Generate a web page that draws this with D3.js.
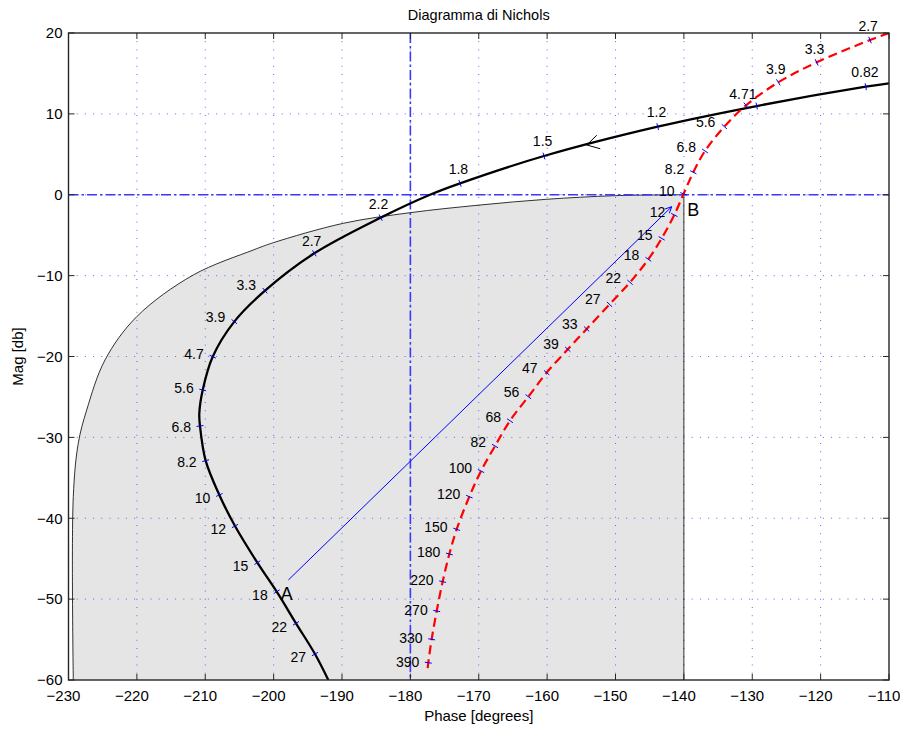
<!DOCTYPE html>
<html>
<head>
<meta charset="utf-8">
<script src="https://cdn.jsdelivr.net/npm/d3@7"></script>
<style>
  body { margin: 0; background: #fff; }
  text { font-family: "Liberation Sans", Arial, Helvetica, sans-serif; fill: #000; }
</style>
</head>
<body>
<svg id="chart" width="903" height="731"></svg>
<script>
// ---------------- data ----------------
const xTickValues = [-230, -220, -210, -200, -190, -180, -170, -160, -150, -140, -130, -120, -110];
const yTickValues = [20, 10, 0, -10, -20, -30, -40, -50, -60];

// Black solid Nichols curve (frequency labels; null = plain vertex, "" = unlabelled marker)
const blackPhase = [-110.0, -113.4, -129.35, -143.83, -160.46, -172.74, -177.13, -184.34, -194.05, -201.26, -205.75, -208.91, -210.37, -210.87, -210.77, -209.94, -207.94, -205.65, -202.38, -199.55, -196.73, -193.95, -192.0];
const blackMag   = [13.78, 13.36, 10.97, 8.42, 4.79, 1.41, 0.0, -2.83, -7.24, -11.86, -15.69, -20.02, -24.14, -27.03, -28.59, -32.88, -37.12, -40.96, -45.49, -49.08, -52.99, -56.79, -60.0];
const blackFreq  = [null, "0.82", "", "1.2", "1.5", "1.8", null, "2.2", "2.7", "3.3", "3.9", "4.7", "5.6", null, "6.8", "8.2", "10", "12", "15", "18", "22", "27", null];

// Red dashed Nichols curve
const redPhase = [-110.0, -112.78, -120.58, -126.19, -130.91, -134.08, -136.91, -138.62, -140.05, -141.4, -143.25, -145.2, -147.88, -150.88, -154.22, -156.98, -160.07, -162.75, -165.43, -167.62, -169.67, -171.38, -173.23, -174.3, -175.28, -176.15, -176.89, -177.38, -177.47];
const redMag   = [20.0, 19.13, 16.37, 13.9, 11.06, 8.42, 5.41, 2.78, 0.1, -2.5, -5.39, -7.98, -10.83, -13.55, -16.6, -19.11, -22.0, -24.97, -27.94, -31.07, -34.16, -37.33, -41.37, -44.42, -47.84, -51.47, -54.97, -57.86, -58.55];
const redFreq  = [null, "2.7", "3.3", "3.9", "4.71", "5.6", "6.8", "8.2", "10", "12", "15", "18", "22", "27", "33", "39", "47", "56", "68", "82", "100", "120", "150", "180", "220", "270", "330", "390", null];

// Shaded region boundary (curved part, ending at 0 dB / -140 deg)
const regionPhase = [-229.3, -229.3, -228.57, -227.34, -224.66, -220.03, -211.75, -202.97, -200.05, -189.81, -180.06, -169.82, -160.06, -150.32, -143.49, -140.0];
const regionMag   = [-60.0, -37.33, -30.73, -26.62, -20.43, -15.08, -9.92, -6.83, -5.93, -3.53, -2.22, -1.27, -0.56, -0.12, -0.02, 0.0];
const regionCorner = [-140.0, -60.0];

// Reference lines
const refPhase = [-180];
const refMag = [0];

// Arrow on black curve (phase, mag) and A-B segment
const arrowPoint = [-154.2, 6.15];
const segPhase = [-197.85, -141.78];
const segMag = [-47.64, -1.48];
const annoText = ["A", "B"];
const annoPhase = [-198.09, -138.62];
const annoMag = [-49.28, -1.89];

const titleText = "Diagramma di Nichols";
const xLabelText = "Phase [degrees]";
const yLabelText = "Mag [db]";

// ---------------- layout ----------------
const W = 903, H = 731;
const m = { left: 68.5, right: 14, top: 33, bottom: 51 };
const x = d3.scaleLinear().domain([-230, -110]).range([m.left, W - m.right]);
const y = d3.scaleLinear().domain([-60, 20]).range([H - m.bottom, m.top]);

const svg = d3.select("#chart");
svg.append("defs").append("clipPath").attr("id", "plotclip")
  .append("rect").attr("x", m.left).attr("y", m.top)
  .attr("width", x.range()[1] - x.range()[0]).attr("height", y.range()[0] - y.range()[1]);

const plot = svg.append("g").attr("clip-path", "url(#plotclip)");

// shaded region
const regionPts = regionPhase.map((p, i) => [p, regionMag[i]]);
const curveGen = d3.line().x(d => x(d[0])).y(d => y(d[1])).curve(d3.curveCatmullRom.alpha(0.5));
const regionPath = curveGen(regionPts) + "L" + x(regionCorner[0]) + "," + y(regionCorner[1]) + "Z";
plot.append("path").attr("d", regionPath).attr("fill", "#e5e5e5").attr("stroke", "none");

// grid
const gridColor = "#6464ff";
plot.append("g").selectAll("line").data(xTickValues.slice(1, -1)).join("line")
  .attr("x1", d => x(d)).attr("x2", d => x(d)).attr("y1", y(20)).attr("y2", y(-60))
  .attr("stroke", gridColor).attr("stroke-width", 1).attr("stroke-dasharray", "1,7.2");
plot.append("g").selectAll("line").data(yTickValues.slice(1, -1)).join("line")
  .attr("y1", d => y(d)).attr("y2", d => y(d)).attr("x1", x(-230)).attr("x2", x(-110))
  .attr("stroke", gridColor).attr("stroke-width", 1).attr("stroke-dasharray", "1,7.2");

// region outline
plot.append("path").attr("d", curveGen(regionPts) + "L" + x(regionCorner[0]) + "," + y(regionCorner[1]))
  .attr("fill", "none").attr("stroke", "#000").attr("stroke-width", 0.8);

// dash-dot reference lines
const ddColor = "#3a3aff";
plot.append("g").selectAll("line").data(refPhase).join("line")
  .attr("x1", d => x(d)).attr("x2", d => x(d)).attr("y1", y(20)).attr("y2", y(-60))
  .attr("stroke", ddColor).attr("stroke-width", 1.6).attr("stroke-dasharray", "10,3,2.5,3");
plot.append("g").selectAll("line").data(refMag).join("line")
  .attr("y1", d => y(d)).attr("y2", d => y(d)).attr("x1", x(-230)).attr("x2", x(-110))
  .attr("stroke", ddColor).attr("stroke-width", 1.6).attr("stroke-dasharray", "10,3,2.5,3");

// curves
const blackPts = blackPhase.map((p, i) => [p, blackMag[i]]);
const redPts = redPhase.map((p, i) => [p, redMag[i]]);
plot.append("path").attr("d", curveGen(blackPts)).attr("fill", "none")
  .attr("stroke", "#000").attr("stroke-width", 2.3);
plot.append("path").attr("d", curveGen(redPts)).attr("fill", "none")
  .attr("stroke", "#ff0000").attr("stroke-width", 2.2).attr("stroke-dasharray", "9,5");

// arrow on black curve
(function () {
  const idx = blackPhase.findIndex(p => p < arrowPoint[0]);
  const a = [x(blackPhase[idx - 1]), y(blackMag[idx - 1])];
  const b = [x(blackPhase[idx]), y(blackMag[idx])];
  const ang = Math.atan2(a[1] - b[1], a[0] - b[0]); // backwards direction
  const tip = [x(arrowPoint[0]), y(arrowPoint[1])];
  const L = 14, s = Math.PI / 6;
  const p1 = [tip[0] + L * Math.cos(ang - s), tip[1] + L * Math.sin(ang - s)];
  const p2 = [tip[0] + L * Math.cos(ang + s), tip[1] + L * Math.sin(ang + s)];
  svg.append("path").attr("d", `M${p1}L${tip}L${p2}`).attr("fill", "none")
    .attr("stroke", "#000").attr("stroke-width", 1);
})();

// A-B segment with arrow
(function () {
  const s0 = [x(segPhase[0]), y(segMag[0])];
  const s1 = [x(segPhase[1]), y(segMag[1])];
  svg.append("line").attr("x1", s0[0]).attr("y1", s0[1]).attr("x2", s1[0]).attr("y2", s1[1])
    .attr("stroke", "#0000ff").attr("stroke-width", 1);
  const ang = Math.atan2(s0[1] - s1[1], s0[0] - s1[0]);
  const L = 7, s = 0.45;
  const p1 = [s1[0] + L * Math.cos(ang - s), s1[1] + L * Math.sin(ang - s)];
  const p2 = [s1[0] + L * Math.cos(ang + s), s1[1] + L * Math.sin(ang + s)];
  svg.append("path").attr("d", `M${p1}L${s1}L${p2}`).attr("fill", "none")
    .attr("stroke", "#0000ff").attr("stroke-width", 1);
})();

// markers & labels on curves
function markCurve(phases, mags, labels) {
  const pts = phases.map((p, i) => [x(p), y(mags[i])]);
  const g = svg.append("g");
  labels.forEach((lab, i) => {
    if (lab === null) return;
    const pr = pts[Math.max(0, i - 1)], nx = pts[Math.min(pts.length - 1, i + 1)];
    let tx = nx[0] - pr[0], ty = nx[1] - pr[1];
    const len = Math.hypot(tx, ty); tx /= len; ty /= len;
    let nX = -ty, nY = tx;
    if (nX + nY > 0) { nX = -nX; nY = -nY; }
    const p = pts[i];
    g.append("line")
      .attr("x1", p[0] - nX * 3.5).attr("y1", p[1] - nY * 3.5)
      .attr("x2", p[0] + nX * 3.5).attr("y2", p[1] + nY * 3.5)
      .attr("stroke", "#0000ff").attr("stroke-width", 1);
    if (lab === "") return;
    const above = Math.abs(ty) < 0.84 * Math.abs(tx);
    const t = g.append("text").text(lab).attr("font-size", 14).attr("dy", "0.35em");
    if (above) {
      t.attr("x", p[0] + nX * 5).attr("y", p[1] + nY * 15).attr("text-anchor", "middle");
    } else {
      t.attr("x", p[0] - 9).attr("y", p[1] + nY * 7).attr("text-anchor", "end");
    }
  });
}
markCurve(blackPhase, blackMag, blackFreq);
markCurve(redPhase, redMag, redFreq);

// A / B annotations
svg.append("g").selectAll("text").data(annoText).join("text")
  .text(d => d).attr("x", (d, i) => x(annoPhase[i])).attr("y", (d, i) => y(annoMag[i]))
  .attr("dy", "0.35em").attr("text-anchor", "middle").attr("font-size", 18);

// axes box and ticks
const axColor = "#262626";
const axG = svg.append("g");
axG.append("rect").attr("x", x(-230)).attr("y", y(20))
  .attr("width", x(-110) - x(-230)).attr("height", y(-60) - y(20))
  .attr("fill", "none").attr("stroke", axColor).attr("stroke-width", 1.4);
const tl = 6;
axG.append("g").selectAll("line").data(xTickValues).join("line")
  .attr("x1", d => x(d)).attr("x2", d => x(d)).attr("y1", y(-60)).attr("y2", y(-60) - tl)
  .attr("stroke", axColor);
axG.append("g").selectAll("line").data(xTickValues).join("line")
  .attr("x1", d => x(d)).attr("x2", d => x(d)).attr("y1", y(20)).attr("y2", y(20) + tl)
  .attr("stroke", axColor);
axG.append("g").selectAll("line").data(yTickValues).join("line")
  .attr("y1", d => y(d)).attr("y2", d => y(d)).attr("x1", x(-230)).attr("x2", x(-230) + tl)
  .attr("stroke", axColor);
axG.append("g").selectAll("line").data(yTickValues).join("line")
  .attr("y1", d => y(d)).attr("y2", d => y(d)).attr("x1", x(-110)).attr("x2", x(-110) - tl)
  .attr("stroke", axColor);

const fmt = v => (v < 0 ? "\u2212" + Math.abs(v) : String(v));
axG.append("g").selectAll("text").data(xTickValues).join("text")
  .text(fmt).attr("x", d => x(d) - 5).attr("y", y(-60) + 21)
  .attr("text-anchor", "middle").attr("font-size", 15)
  .each(function () {
    const bb = this.getBBox();
    if (bb.x + bb.width > W - 1) {
      d3.select(this).attr("x", +d3.select(this).attr("x") - (bb.x + bb.width - (W - 1)));
    }
  });
axG.append("g").selectAll("text").data(yTickValues).join("text")
  .text(fmt).attr("x", x(-230) - 6).attr("y", d => y(d)).attr("dy", "0.35em")
  .attr("text-anchor", "end").attr("font-size", 15);

// titles
svg.append("text").text(titleText).attr("x", (x(-230) + x(-110)) / 2).attr("y", 20)
  .attr("text-anchor", "middle").attr("font-size", 14.5);
svg.append("text").text(xLabelText).attr("x", (x(-230) + x(-110)) / 2).attr("y", 721)
  .attr("text-anchor", "middle").attr("font-size", 15);
svg.append("text").text(yLabelText)
  .attr("transform", `translate(23,${(y(20) + y(-60)) / 2}) rotate(-90)`)
  .attr("text-anchor", "middle").attr("font-size", 15);
</script>
</body>
</html>
